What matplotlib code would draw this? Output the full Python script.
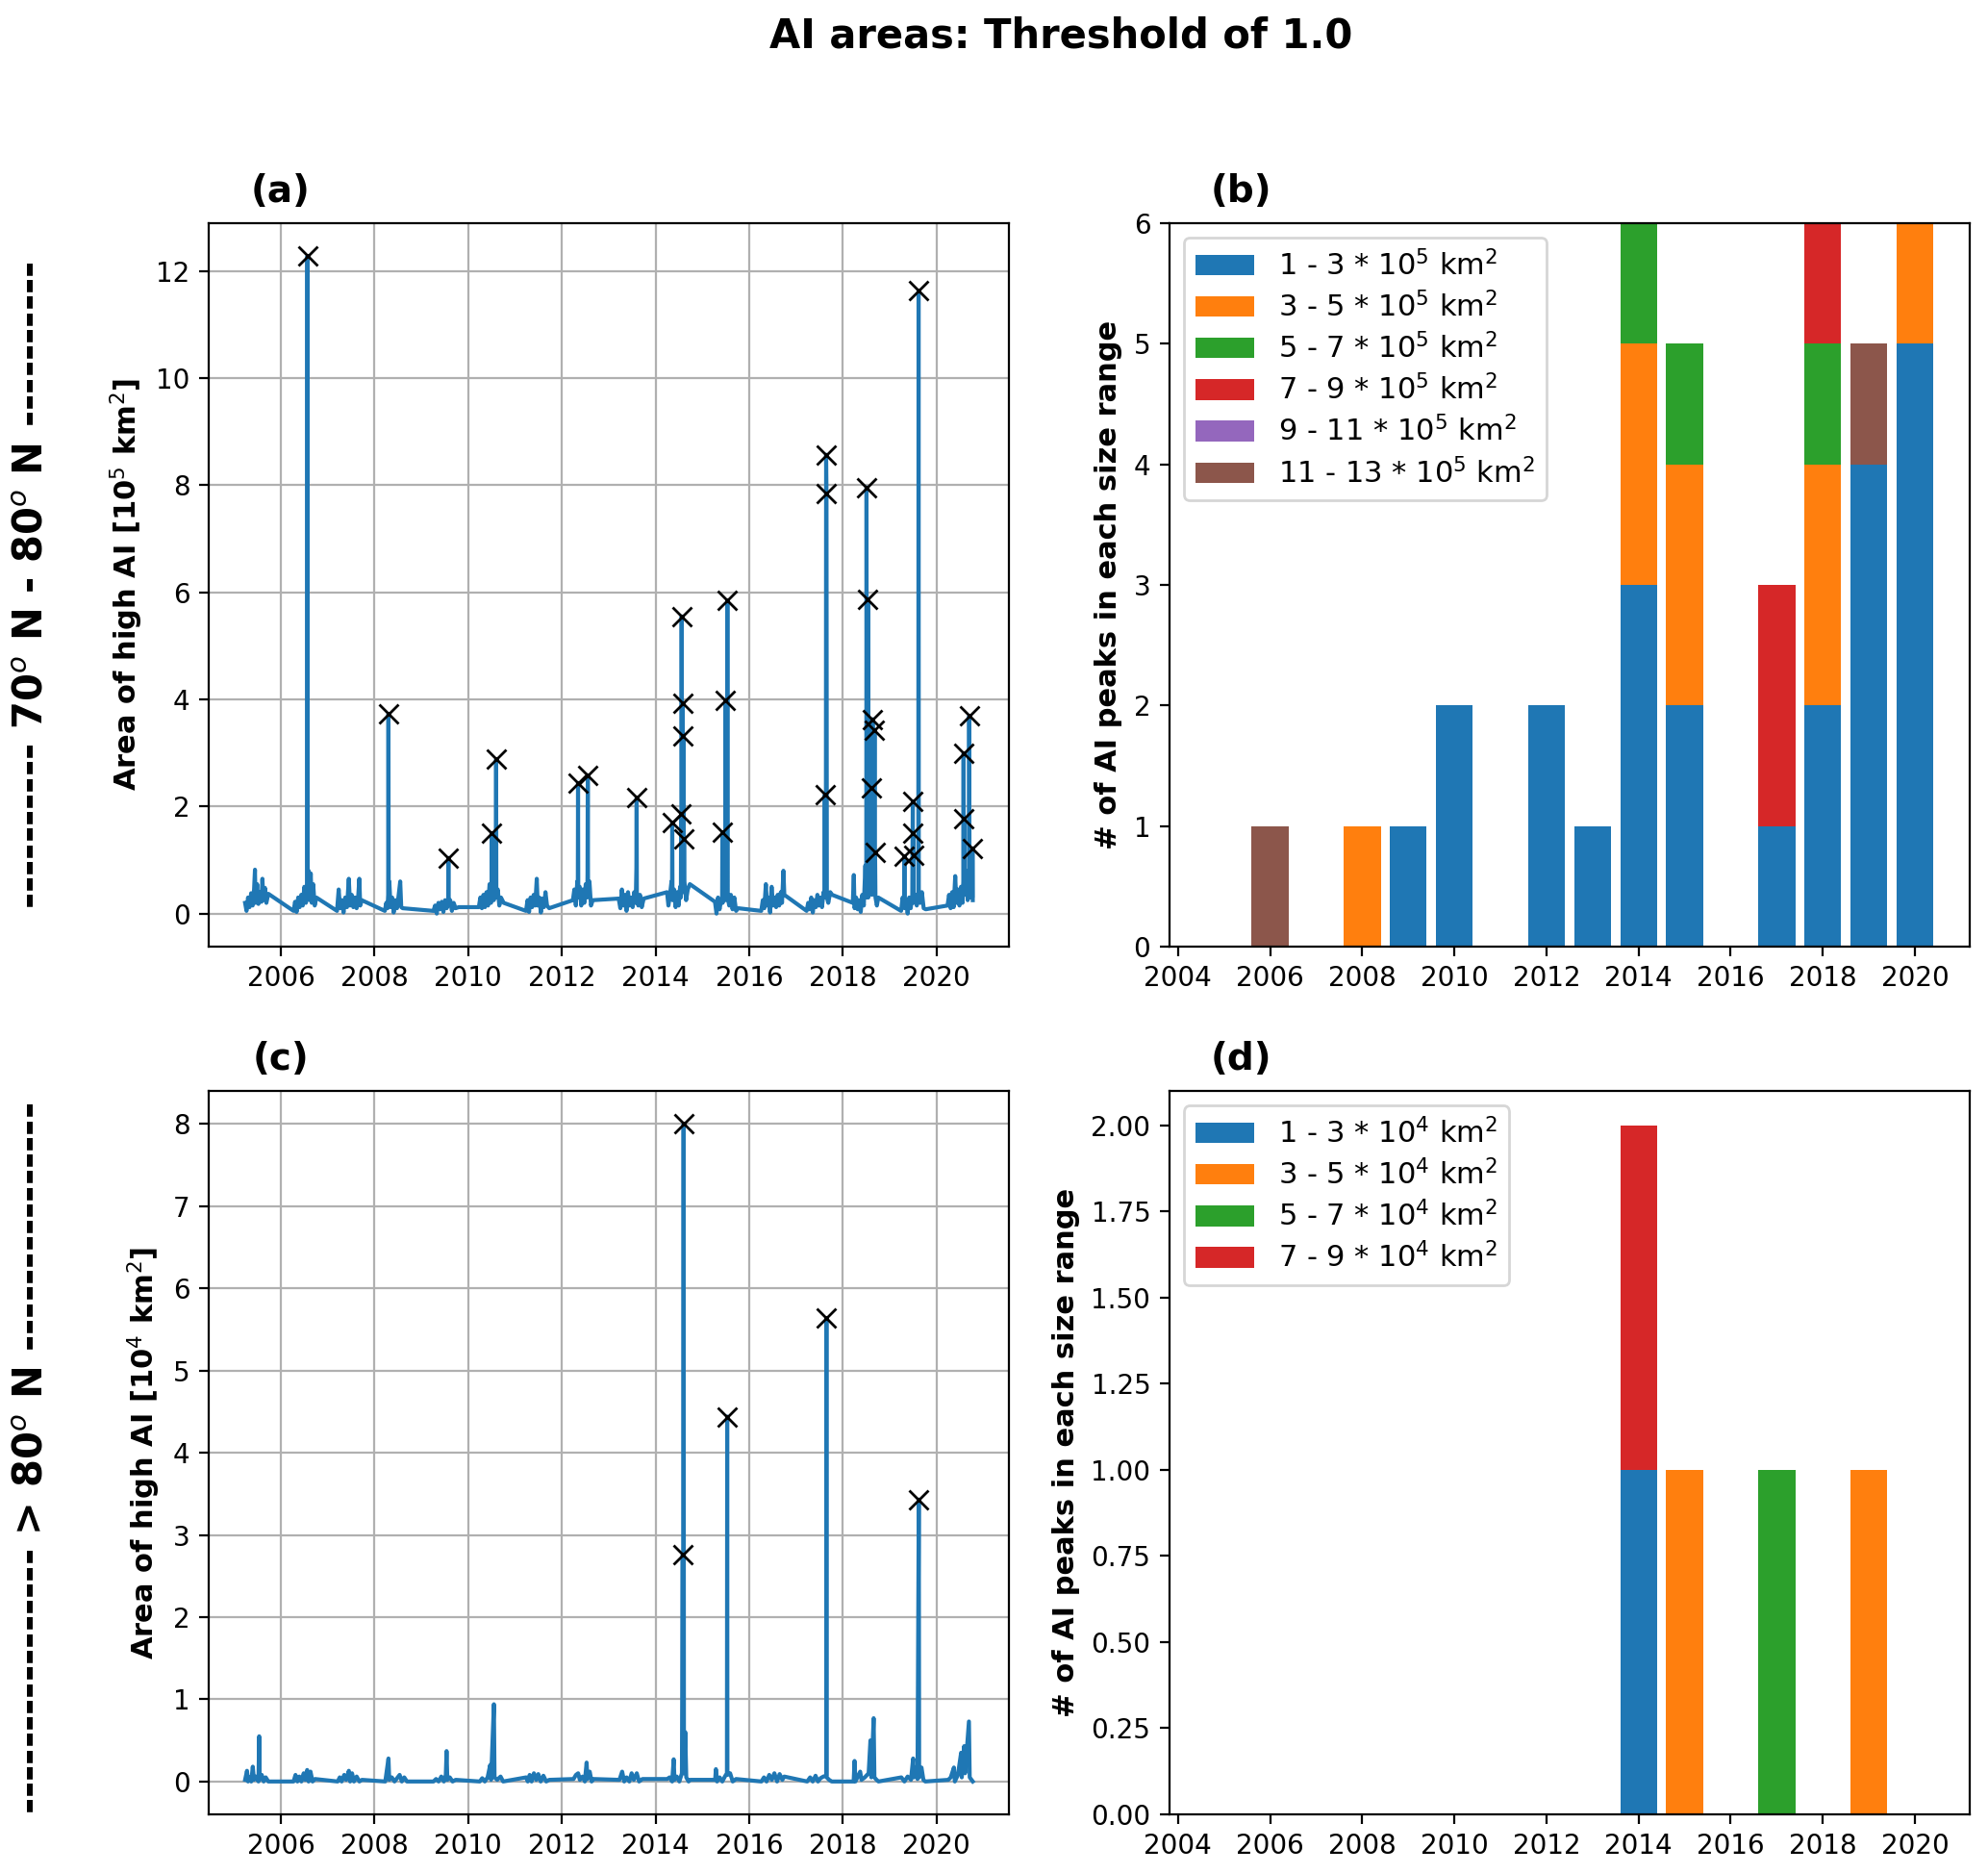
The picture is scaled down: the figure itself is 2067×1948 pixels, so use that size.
import numpy as np
import pandas as pd
import matplotlib
matplotlib.use("Agg")
import matplotlib.pyplot as plt
import matplotlib.dates as mdates

# ---- (a) 70N-80N : area of high AI [10^5 km^2] ----
a_day = [
    '2005-03-28', '2005-04-08', '2005-04-20', '2005-05-02', '2005-05-14', '2005-05-26', '2005-06-06', '2005-06-13',
    '2005-06-18', '2005-06-30', '2005-07-10', '2005-07-22', '2005-08-03', '2005-08-10', '2005-08-18', '2005-08-30',
    '2005-09-10', '2005-09-25',
    '2006-04-10', '2006-04-22', '2006-05-04', '2006-05-16', '2006-05-28', '2006-06-09', '2006-06-21', '2006-07-03',
    '2006-07-15', '2006-07-25', '2006-07-27', '2006-07-29', '2006-08-06', '2006-08-14', '2006-08-22', '2006-08-30',
    '2006-09-10', '2006-09-22', '2006-10-05',
    '2007-03-15', '2007-03-28', '2007-04-08', '2007-04-22', '2007-05-05', '2007-05-18', '2007-06-01', '2007-06-15',
    '2007-06-25', '2007-07-08', '2007-07-20', '2007-08-02', '2007-08-15', '2007-08-28', '2007-09-05', '2007-09-12',
    '2007-09-24',
    '2008-03-22', '2008-04-02', '2008-04-12', '2008-04-17', '2008-04-19', '2008-04-21', '2008-04-26', '2008-05-06',
    '2008-05-18', '2008-05-30', '2008-06-12', '2008-06-25', '2008-07-08', '2008-07-20', '2008-07-28', '2008-08-08',
    '2009-04-05', '2009-04-18', '2009-05-01', '2009-05-14', '2009-05-27', '2009-06-09', '2009-06-22', '2009-07-05',
    '2009-07-18', '2009-07-29', '2009-07-31', '2009-08-02', '2009-08-14', '2009-08-27', '2009-09-10', '2009-09-25',
    '2009-10-20',
    '2010-03-25', '2010-04-06', '2010-04-18', '2010-04-30', '2010-05-12', '2010-05-24', '2010-06-05', '2010-06-17',
    '2010-06-28', '2010-07-03', '2010-07-05', '2010-07-07', '2010-07-20', '2010-08-05', '2010-08-07', '2010-08-09',
    '2010-08-20', '2010-09-01', '2010-09-14', '2010-10-05',
    '2011-03-28', '2011-04-09', '2011-04-21', '2011-05-03', '2011-05-15', '2011-05-27', '2011-06-08', '2011-06-20',
    '2011-06-28', '2011-07-10', '2011-07-22', '2011-08-03', '2011-08-15', '2011-08-27', '2011-09-08', '2011-09-25',
    '2012-03-28', '2012-04-08', '2012-04-20', '2012-05-01', '2012-05-05', '2012-05-07', '2012-05-09', '2012-05-20',
    '2012-06-01', '2012-06-13', '2012-06-25', '2012-07-06', '2012-07-18', '2012-07-20', '2012-07-22', '2012-07-24',
    '2012-08-04', '2012-08-16', '2012-08-30',
    '2013-03-20', '2013-04-02', '2013-04-14', '2013-04-26', '2013-05-08', '2013-05-20', '2013-06-01', '2013-06-13',
    '2013-06-25', '2013-07-07', '2013-07-19', '2013-07-31', '2013-08-05', '2013-08-07', '2013-08-09', '2013-08-20',
    '2013-09-02', '2013-09-16', '2013-10-01',
    '2014-04-01', '2014-04-12', '2014-04-24', '2014-05-06', '2014-05-10', '2014-05-12', '2014-05-14', '2014-05-26',
    '2014-06-07', '2014-06-19', '2014-07-01', '2014-07-12', '2014-07-18', '2014-07-20', '2014-07-22', '2014-07-24',
    '2014-07-27', '2014-08-01', '2014-08-04', '2014-08-06', '2014-08-09', '2014-08-12', '2014-08-15', '2014-08-28',
    '2014-09-10', '2014-09-26',
    '2015-04-10', '2015-04-22', '2015-05-04', '2015-05-16', '2015-05-28', '2015-06-05', '2015-06-07', '2015-06-09',
    '2015-06-20', '2015-06-30', '2015-07-02', '2015-07-04', '2015-07-14', '2015-07-16', '2015-07-18', '2015-07-30',
    '2015-08-12', '2015-08-25', '2015-09-08', '2015-09-22', '2015-10-08',
    '2016-04-05', '2016-04-17', '2016-04-29', '2016-05-11', '2016-05-20', '2016-06-01', '2016-06-13', '2016-06-25',
    '2016-07-06', '2016-07-18', '2016-07-30', '2016-08-11', '2016-08-23', '2016-09-05', '2016-09-14', '2016-09-25',
    '2016-10-02',
    '2017-03-25', '2017-04-06', '2017-04-18', '2017-04-30', '2017-05-12', '2017-05-24', '2017-06-05', '2017-06-17',
    '2017-06-29', '2017-07-11', '2017-07-23', '2017-08-04', '2017-08-12', '2017-08-14', '2017-08-16', '2017-08-22',
    '2017-08-24', '2017-08-27', '2017-08-30', '2017-09-10', '2017-09-25', '2017-10-10',
    '2018-03-20', '2018-03-28', '2018-04-03', '2018-04-15', '2018-04-27', '2018-05-09', '2018-05-21', '2018-06-02',
    '2018-06-14', '2018-06-26', '2018-07-03', '2018-07-05', '2018-07-08', '2018-07-14', '2018-07-16', '2018-07-19',
    '2018-07-30', '2018-08-12', '2018-08-14', '2018-08-17', '2018-08-20', '2018-08-22', '2018-08-25', '2018-09-04',
    '2018-09-06', '2018-09-08', '2018-09-10', '2018-09-13', '2018-09-24', '2018-10-05',
    '2019-04-01', '2019-04-13', '2019-04-25', '2019-04-27', '2019-04-29', '2019-05-10', '2019-05-22', '2019-06-03',
    '2019-06-15', '2019-06-27', '2019-07-01', '2019-07-02', '2019-07-03', '2019-07-04', '2019-07-05', '2019-07-08',
    '2019-07-20', '2019-08-01', '2019-08-13', '2019-08-15', '2019-08-17', '2019-08-28', '2019-09-10', '2019-09-24',
    '2019-10-10',
    '2020-03-28', '2020-04-09', '2020-04-21', '2020-05-03', '2020-05-15', '2020-05-27', '2020-06-05', '2020-06-17',
    '2020-06-29', '2020-07-11', '2020-07-23', '2020-07-29', '2020-07-31', '2020-08-02', '2020-08-04', '2020-08-07',
    '2020-08-20', '2020-09-01', '2020-09-11', '2020-09-13', '2020-09-16', '2020-09-28', '2020-10-05', '2020-10-08',
    '2020-10-09', '2020-10-11',
]
a_area = [
    0.20, 0.05, 0.30, 0.12, 0.38, 0.15, 0.45, 0.82, 0.20, 0.55, 0.18, 0.40, 0.22, 0.65, 0.25, 0.48, 0.20, 0.37,
    0.05, 0.22, 0.03, 0.30, 0.12, 0.35, 0.15, 0.50, 0.20, 0.30, 12.28, 0.35, 0.80, 0.25, 0.75, 0.20, 0.55, 0.15, 0.30,
    0.05, 0.45, 0.10, 0.25, 0.02, 0.30, 0.12, 0.65, 0.15, 0.35, 0.12, 0.30, 0.10, 0.35, 0.65, 0.15, 0.25,
    0.05, 0.20, 0.10, 0.35, 3.73, 0.40, 0.60, 0.12, 0.30, 0.02, 0.25, 0.10, 0.35, 0.60, 0.12, 0.10,
    0.05, 0.15, 0.00, 0.20, 0.08, 0.22, 0.03, 0.25, 0.10, 0.20, 1.04, 0.15, 0.25, 0.05, 0.20, 0.10, 0.12,
    0.12, 0.30, 0.10, 0.35, 0.12, 0.40, 0.15, 0.55, 0.20, 0.40, 1.50, 0.30, 0.25, 0.35, 2.88, 0.30, 0.45, 0.15,
    0.30, 0.20,
    0.05, 0.25, 0.03, 0.30, 0.12, 0.35, 0.15, 0.65, 0.15, 0.30, 0.02, 0.28, 0.12, 0.40, 0.15, 0.10,
    0.25, 0.45, 0.15, 0.60, 0.30, 2.44, 0.35, 0.50, 0.15, 0.45, 0.20, 0.55, 0.30, 0.75, 2.58, 0.40, 0.60, 0.15, 0.25,
    0.28, 0.10, 0.45, 0.15, 0.35, 0.05, 0.40, 0.15, 0.30, 0.12, 0.40, 0.20, 0.85, 2.16, 0.30, 0.15, 0.35, 0.12, 0.28,
    0.40, 0.15, 0.35, 0.60, 0.30, 1.70, 0.25, 0.45, 0.12, 0.40, 0.15, 0.50, 0.30, 1.86, 0.40, 5.55, 0.45, 3.93,
    0.40, 3.31, 0.50, 1.39, 0.60, 0.25, 0.45, 0.55,
    0.22, 0.00, 0.30, 0.08, 0.25, 0.30, 1.52, 0.20, 0.35, 0.25, 3.99, 0.30, 0.35, 5.85, 0.30, 0.15, 0.35, 0.08,
    0.30, 0.05, 0.10,
    0.05, 0.25, 0.10, 0.55, 0.15, 0.30, 0.02, 0.50, 0.15, 0.30, 0.12, 0.35, 0.15, 0.40, 0.20, 0.80, 0.35,
    0.05, 0.20, 0.08, 0.30, 0.02, 0.25, 0.12, 0.35, 0.15, 0.30, 0.12, 0.40, 0.30, 2.22, 0.35, 0.40, 8.57, 7.84,
    0.30, 0.20, 0.40, 0.35,
    0.20, 0.72, 0.10, 0.30, 0.08, 0.25, 0.03, 0.35, 0.15, 0.90, 0.30, 7.96, 0.40, 0.50, 5.86, 0.30, 0.45, 0.40,
    2.34, 0.35, 0.50, 3.63, 0.40, 0.60, 3.43, 0.40, 1.14, 0.30, 0.15, 0.30,
    0.05, 0.30, 0.15, 1.07, 0.10, 0.25, 0.00, 0.30, 0.10, 0.35, 2.09, 0.40, 1.50, 0.30, 1.09, 0.20, 0.35, 0.15,
    0.40, 11.63, 0.35, 0.20, 0.40, 0.10, 0.08,
    0.15, 0.35, 0.10, 0.40, 0.12, 0.70, 0.20, 0.45, 0.15, 0.50, 0.20, 0.60, 2.99, 0.40, 1.78, 0.35, 0.80, 0.25,
    0.60, 3.69, 0.30, 0.45, 0.30, 0.30, 1.22, 0.25,
]
a_peak_day = ['2006-07-27', '2008-04-19', '2009-07-31', '2010-07-05', '2010-08-07', '2012-05-07', '2012-07-22',
              '2013-08-07', '2014-05-12', '2014-07-20', '2014-07-24', '2014-08-01', '2014-08-06', '2014-08-12',
              '2015-06-07', '2015-07-02', '2015-07-16', '2017-08-14', '2017-08-24', '2017-08-27', '2018-07-05',
              '2018-07-16', '2018-08-14', '2018-08-22', '2018-09-06', '2018-09-10', '2019-04-27', '2019-07-01',
              '2019-07-03', '2019-07-05', '2019-08-15', '2020-07-31', '2020-08-04', '2020-09-13', '2020-10-09']
a_peak_area = [12.28, 3.73, 1.04, 1.50, 2.88, 2.44, 2.58, 2.16, 1.70, 1.86, 5.55, 3.93, 3.31, 1.39,
               1.52, 3.99, 5.85, 2.22, 8.57, 7.84, 7.96, 5.86, 2.34, 3.63, 3.43, 1.14, 1.07, 2.09,
               1.50, 1.09, 11.63, 2.99, 1.78, 3.69, 1.22]

# ---- (c) >80N : area of high AI [10^4 km^2] ----
c_day = [
    '2005-03-28', '2005-04-12', '2005-04-20', '2005-05-05', '2005-05-15', '2005-05-27', '2005-06-05', '2005-06-20',
    '2005-07-10', '2005-07-16', '2005-07-20', '2005-08-05', '2005-08-20', '2005-09-05', '2005-09-25',
    '2006-04-10', '2006-04-25', '2006-05-10', '2006-05-25', '2006-06-10', '2006-06-28', '2006-07-10', '2006-07-25',
    '2006-08-05', '2006-08-20', '2006-09-05', '2006-09-25',
    '2007-03-20', '2007-04-05', '2007-04-20', '2007-05-10', '2007-05-25', '2007-06-15', '2007-06-25', '2007-07-10',
    '2007-07-25', '2007-08-15', '2007-09-05', '2007-09-25',
    '2008-03-25', '2008-04-10', '2008-04-19', '2008-04-25', '2008-05-15', '2008-06-05', '2008-06-25', '2008-07-15',
    '2008-08-01', '2008-08-20', '2008-09-10',
    '2009-04-05', '2009-04-25', '2009-05-15', '2009-06-05', '2009-06-25', '2009-07-10', '2009-07-16', '2009-07-22',
    '2009-08-10', '2009-09-01', '2009-09-25',
    '2010-04-01', '2010-04-20', '2010-05-10', '2010-06-01', '2010-06-21', '2010-06-28', '2010-07-20', '2010-07-25',
    '2010-08-15', '2010-09-10', '2010-09-30',
    '2011-03-28', '2011-04-10', '2011-04-25', '2011-05-10', '2011-05-28', '2011-06-15', '2011-07-01', '2011-07-20',
    '2011-08-10', '2011-09-01', '2011-09-25',
    '2012-04-01', '2012-04-20', '2012-05-07', '2012-05-20', '2012-06-10', '2012-06-28', '2012-07-12', '2012-07-18',
    '2012-08-05', '2012-08-20', '2012-09-05',
    '2013-03-25', '2013-04-15', '2013-05-01', '2013-05-20', '2013-06-10', '2013-06-28', '2013-07-15', '2013-08-07',
    '2013-08-25', '2013-09-20',
    '2014-04-01', '2014-04-20', '2014-05-10', '2014-05-22', '2014-05-28', '2014-06-15', '2014-07-05', '2014-07-25',
    '2014-07-31', '2014-08-03', '2014-08-07', '2014-08-10', '2014-08-20', '2014-08-28', '2014-09-15', '2014-09-28',
    '2015-04-10', '2015-04-16', '2015-04-25', '2015-05-15', '2015-06-05', '2015-06-25', '2015-07-11', '2015-07-13',
    '2015-07-15', '2015-08-05', '2015-08-25', '2015-09-20',
    '2016-04-05', '2016-04-25', '2016-05-15', '2016-06-05', '2016-06-25', '2016-07-15', '2016-08-05', '2016-08-25',
    '2016-09-15', '2016-09-30',
    '2017-03-28', '2017-04-20', '2017-05-10', '2017-06-01', '2017-06-20', '2017-07-10', '2017-08-01', '2017-08-23',
    '2017-08-25', '2017-08-27', '2017-09-15', '2017-10-05',
    '2018-03-25', '2018-04-01', '2018-04-08', '2018-05-15', '2018-05-25', '2018-06-20', '2018-07-20', '2018-08-03',
    '2018-08-10', '2018-08-28', '2018-09-03', '2018-09-20', '2018-10-05',
    '2019-04-01', '2019-04-25', '2019-05-20', '2019-06-15', '2019-07-02', '2019-07-08', '2019-07-25', '2019-08-05',
    '2019-08-15', '2019-08-18', '2019-09-05', '2019-09-20', '2019-10-05',
    '2020-04-01', '2020-04-20', '2020-05-15', '2020-05-22', '2020-06-15', '2020-07-10', '2020-07-15', '2020-08-03',
    '2020-08-10', '2020-09-09', '2020-09-15', '2020-10-09',
]
c_area = [
    0.02, 0.13, 0.00, 0.05, 0.00, 0.18, 0.02, 0.06, 0.00, 0.55, 0.02, 0.08, 0.00, 0.05, 0.00,
    0.00, 0.08, 0.00, 0.06, 0.00, 0.10, 0.02, 0.14, 0.00, 0.12, 0.00, 0.03,
    0.00, 0.05, 0.00, 0.08, 0.02, 0.13, 0.00, 0.10, 0.00, 0.06, 0.00, 0.02,
    0.00, 0.18, 0.28, 0.02, 0.05, 0.00, 0.04, 0.08, 0.00, 0.05, 0.00,
    0.00, 0.03, 0.00, 0.06, 0.00, 0.08, 0.37, 0.02, 0.05, 0.00, 0.02,
    0.00, 0.04, 0.00, 0.05, 0.20, 0.02, 0.94, 0.05, 0.02, 0.06, 0.00,
    0.05, 0.00, 0.08, 0.00, 0.10, 0.02, 0.09, 0.00, 0.07, 0.00, 0.02,
    0.03, 0.08, 0.10, 0.02, 0.06, 0.00, 0.23, 0.03, 0.12, 0.00, 0.03,
    0.02, 0.12, 0.00, 0.05, 0.00, 0.10, 0.02, 0.10, 0.00, 0.03,
    0.03, 0.05, 0.00, 0.27, 0.02, 0.06, 0.00, 0.10, 2.76, 0.15, 8.00, 0.10, 0.60, 0.05, 0.00, 0.02,
    0.02, 0.15, 0.00, 0.05, 0.00, 0.06, 0.10, 4.44, 0.08, 0.10, 0.00, 0.03,
    0.00, 0.05, 0.00, 0.08, 0.02, 0.10, 0.00, 0.09, 0.02, 0.06,
    0.00, 0.05, 0.00, 0.07, 0.00, 0.04, 0.06, 0.07, 5.64, 0.05, 0.02, 0.00,
    0.00, 0.25, 0.00, 0.12, 0.02, 0.05, 0.10, 0.50, 0.05, 0.77, 0.05, 0.02, 0.00,
    0.05, 0.00, 0.06, 0.02, 0.28, 0.05, 0.17, 0.03, 3.43, 0.05, 0.17, 0.02, 0.00,
    0.02, 0.05, 0.17, 0.00, 0.08, 0.35, 0.05, 0.43, 0.10, 0.73, 0.05, 0.00,
]
c_peak_day = ['2014-07-31', '2014-08-07', '2015-07-13', '2017-08-25', '2019-08-15']
c_peak_area = [2.76, 8.00, 4.44, 5.64, 3.43]

# ---- (b)/(d) number of peaks per year in each size range ----
years = list(range(2005, 2021))
b_labels = ['1 - 3 * 10$^5$ km$^2$', '3 - 5 * 10$^5$ km$^2$', '5 - 7 * 10$^5$ km$^2$',
            '7 - 9 * 10$^5$ km$^2$', '9 - 11 * 10$^5$ km$^2$', '11 - 13 * 10$^5$ km$^2$']
#            2005 06 07 08 09 10 11 12 13 14 15 16 17 18 19 20
b_1_3   = [0, 0, 0, 0, 1, 2, 0, 2, 1, 3, 2, 0, 1, 2, 4, 5]
b_3_5   = [0, 0, 0, 1, 0, 0, 0, 0, 0, 2, 2, 0, 0, 2, 0, 1]
b_5_7   = [0, 0, 0, 0, 0, 0, 0, 0, 0, 1, 1, 0, 0, 1, 0, 0]
b_7_9   = [0, 0, 0, 0, 0, 0, 0, 0, 0, 0, 0, 0, 2, 1, 0, 0]
b_9_11  = [0, 0, 0, 0, 0, 0, 0, 0, 0, 0, 0, 0, 0, 0, 0, 0]
b_11_13 = [0, 1, 0, 0, 0, 0, 0, 0, 0, 0, 0, 0, 0, 0, 1, 0]

d_labels = ['1 - 3 * 10$^4$ km$^2$', '3 - 5 * 10$^4$ km$^2$', '5 - 7 * 10$^4$ km$^2$',
            '7 - 9 * 10$^4$ km$^2$']
d_1_3 = [0, 0, 0, 0, 0, 0, 0, 0, 0, 1, 0, 0, 0, 0, 0, 0]
d_3_5 = [0, 0, 0, 0, 0, 0, 0, 0, 0, 0, 1, 0, 0, 0, 1, 0]
d_5_7 = [0, 0, 0, 0, 0, 0, 0, 0, 0, 0, 0, 0, 1, 0, 0, 0]
d_7_9 = [0, 0, 0, 0, 0, 0, 0, 0, 0, 1, 0, 0, 0, 0, 0, 0]


W, H = 2067, 1948
fig, axs = plt.subplots(2, 2, figsize=(W / 200, H / 200), dpi=200)
fig.subplots_adjust(left=217 / W, right=2048 / W, bottom=1 - 1886 / H, top=1 - 232 / H,
                    wspace=0.2, hspace=0.2)


def plot_area(ax, day, area, pday, parea, ylab, title):
    ax.plot(pd.to_datetime(day), area)
    ax.plot(pd.to_datetime(pday), parea, 'x', color='black', ms=7)
    ax.xaxis.set_major_locator(mdates.YearLocator(2))
    ax.xaxis.set_major_formatter(mdates.DateFormatter('%Y'))
    ax.grid()
    ax.set_ylabel(ylab, fontsize=11, fontweight='bold')
    ax.set_title(title, fontsize=14, fontweight='bold', x=0.09, pad=8)


def plot_counts(ax, stacks, labels, title):
    bottom = np.zeros(len(years))
    for vals, lab in zip(stacks, labels):
        ax.bar(years, vals, bottom=bottom, label=lab)
        bottom = bottom + np.array(vals)
    ax.legend(loc='upper left', fontsize=11, labelspacing=0.35)
    ax.set_ylabel('# of AI peaks in each size range', fontsize=11, fontweight='bold')
    ax.set_title(title, fontsize=14, fontweight='bold', x=0.09, pad=8)


plot_area(axs[0, 0], a_day, a_area, a_peak_day, a_peak_area,
          'Area of high AI [10$^5$ km$^2$]', '(a)')
plot_counts(axs[0, 1], [b_1_3, b_3_5, b_5_7, b_7_9, b_9_11, b_11_13], b_labels, '(b)')
axs[0, 1].set_ylim(0, 6)

plot_area(axs[1, 0], c_day, c_area, c_peak_day, c_peak_area,
          'Area of high AI [10$^4$ km$^2$]', '(c)')
plot_counts(axs[1, 1], [d_1_3, d_3_5, d_5_7, d_7_9], d_labels, '(d)')

fig.text(1103 / W, 1 - 50 / H, 'AI areas: Threshold of 1.0', ha='center', va='baseline',
         fontsize=15, fontweight='bold')
fig.text(33 / W, 1 - 608 / H, '-' * 10 + ' 70$^o$ N - 80$^o$ N ' + '-' * 10,
         rotation=90, ha='center', va='center', fontsize=15, fontweight='bold')
fig.text(33 / W, 1 - 1516 / H, '-' * 16 + ' > 80$^o$ N ' + '-' * 15,
         rotation=90, ha='center', va='center', fontsize=15, fontweight='bold')

fig.savefig('out.png', dpi=200)
